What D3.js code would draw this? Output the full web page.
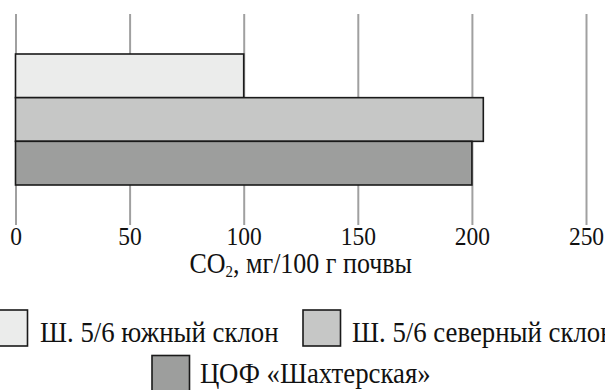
<!DOCTYPE html>
<html>
<head>
<meta charset="utf-8">
<script src="https://cdn.jsdelivr.net/npm/d3@7"></script>
<style>
  html, body { margin: 0; padding: 0; background: #fff; }
  svg { display: block; font-family: 'Liberation Serif', 'Times New Roman', Times, serif; }
</style>
</head>
<body>
<svg id="chart" width="605" height="390"></svg>
<script>
const categories = ["Ш. 5/6 южный склон", "Ш. 5/6 северный склон", "ЦОФ «Шахтерская»"];
const values = [100, 205, 200];
const colors = ["#ebeceb", "#c6c7c6", "#9d9e9d"];
const tickValues = [0, 50, 100, 150, 200, 250];

const FONT = "'Liberation Serif', 'Times New Roman', Times, serif";
const svg = d3.select("#chart");

const x = d3.scaleLinear().domain([0, 250]).range([15.5, 586]);
const y = d3.scaleBand().domain(categories).range([54, 185]).padding(0);

// grid / axis
const gridTop = 14, gridBottom = 225;
const axis = d3.axisBottom(x).tickValues(tickValues).tickSize(gridBottom - gridTop).tickFormat(d3.format("d"));
const ag = svg.append("g").attr("transform", `translate(0,${gridTop})`).call(axis);
ag.attr("font-family", null).attr("font-size", null);
ag.select(".domain").remove();
ag.selectAll(".tick line").attr("stroke", "#a0a0a0").attr("stroke-width", 2);
ag.selectAll(".tick text")
  .attr("dy", null)
  .attr("y", 0)
  .attr("transform", `translate(0,${245 - gridTop}) scale(1,1.1)`)
  .style("font-family", FONT)
  .style("font-size", "23.5px")
  .attr("fill", "#111");

// bars
svg.append("g").selectAll("rect")
  .data(categories)
  .join("rect")
  .attr("x", x(0))
  .attr("y", d => y(d))
  .attr("width", (d, i) => x(values[i]) - x(0))
  .attr("height", y.bandwidth())
  .attr("fill", (d, i) => colors[i])
  .attr("stroke", "#1a1a1a")
  .attr("stroke-width", 1.6);

// axis title
const title = svg.append("text")
  .attr("transform", `translate(${(x(0) + x(250)) / 2},273) scale(1,1.12)`)
  .attr("text-anchor", "middle")
  .attr("fill", "#111")
  .style("font-family", FONT)
  .style("font-size", "26px");
title.append("tspan").text("CO");
title.append("tspan").text("2").style("font-size", "15px").attr("dy", 4);
title.append("tspan").text(", мг/100 г почвы").attr("dy", -4);

// legend
const legendPos = [
  {bx: -10, by: 310, tx: 40, ty: 341.5},
  {bx: 303, by: 310, tx: 352, ty: 341.5},
  {bx: 152, by: 355.5, tx: 200, ty: 383}
];
const lg = svg.append("g");
categories.forEach((c, i) => {
  const p = legendPos[i];
  lg.append("rect")
    .attr("x", p.bx).attr("y", p.by)
    .attr("width", 37.5).attr("height", 36)
    .attr("fill", colors[i])
    .attr("stroke", "#1a1a1a").attr("stroke-width", 1.6);
  lg.append("text")
    .attr("transform", `translate(${p.tx},${p.ty}) scale(1,1.12)`)
    .attr("fill", "#111")
    .style("font-family", FONT)
    .style("font-size", "26.8px")
    .text(c);
});
</script>
</body>
</html>
